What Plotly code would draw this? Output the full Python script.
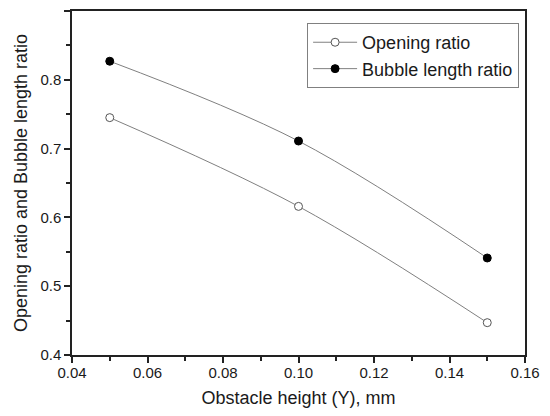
import plotly.graph_objects as go

obstacle_height = [0.05, 0.10, 0.15]
opening_ratio = [0.745, 0.616, 0.447]
bubble_length_ratio = [0.827, 0.711, 0.541]

font = "Liberation Sans, Arial, sans-serif"

fig = go.Figure()
fig.add_trace(go.Scatter(
    x=obstacle_height, y=opening_ratio, name="Opening ratio",
    mode="lines+markers", line=dict(color="#808080", width=1, shape="spline"),
    marker=dict(symbol="circle", size=8, color="white", line=dict(color="#555555", width=1)),
))
fig.add_trace(go.Scatter(
    x=obstacle_height, y=bubble_length_ratio, name="Bubble length ratio",
    mode="lines+markers", line=dict(color="#808080", width=1, shape="spline"),
    marker=dict(symbol="circle", size=8, color="black", line=dict(color="black", width=1)),
))

axis_common = dict(
    showgrid=False, zeroline=False, showline=True, linecolor="#222222", linewidth=1.5,
    mirror=True, ticks="outside", ticklen=6, tickwidth=1.5, tickcolor="#222222",
    tickfont=dict(size=15, color="#1a1a1a"), automargin=False,
)

fig.update_xaxes(
    range=[0.04, 0.16], dtick=0.02, tickformat=".2f", ticklabelstandoff=-3,
    minor=dict(ticks="outside", dtick=0.01, ticklen=4, tickwidth=1.5, tickcolor="#222222"),
    title=dict(text="Obstacle height (Y), mm", font=dict(size=18, color="#1a1a1a"), standoff=14),
    **axis_common,
)
fig.update_yaxes(
    range=[0.4, 0.9], dtick=0.1, tickformat=".1f",
    minor=dict(ticks="outside", dtick=0.05, ticklen=4, tickwidth=1.5, tickcolor="#222222"),
    title=dict(text="Opening ratio and Bubble length ratio", font=dict(size=18, color="#1a1a1a"), standoff=8),
    **axis_common,
)

# page body adds an 8px margin, so the figure is kept small enough to avoid scrollbars
fig.update_layout(
    width=542, height=400,
    margin=dict(l=64, r=25, t=3, b=53),
    paper_bgcolor="white", plot_bgcolor="white",
    font=dict(family=font, color="#1a1a1a"),
    legend=dict(
        x=0.519, y=0.965, xanchor="left", yanchor="top",
        bordercolor="#808080", borderwidth=1, bgcolor="white",
        font=dict(size=18, color="#1a1a1a"), tracegroupgap=0, itemwidth=44,
    ),
)

fig.write_html("out.html")
